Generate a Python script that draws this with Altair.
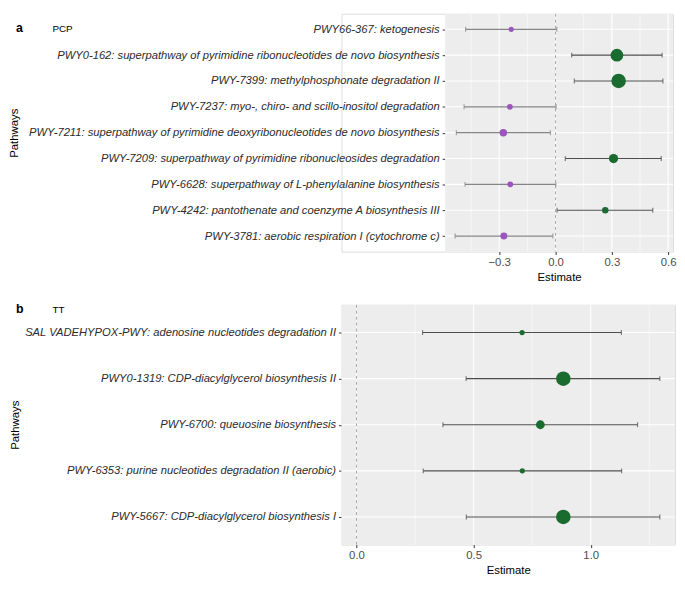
import altair as alt
import pandas as pd

# ---------------- data ----------------
pcp_pathways = [
    "PWY66-367: ketogenesis",
    "PWY0-162: superpathway of pyrimidine ribonucleotides de novo biosynthesis",
    "PWY-7399: methylphosphonate degradation II",
    "PWY-7237: myo-, chiro- and scillo-inositol degradation",
    "PWY-7211: superpathway of pyrimidine deoxyribonucleotides de novo biosynthesis",
    "PWY-7209: superpathway of pyrimidine ribonucleosides degradation",
    "PWY-6628: superpathway of L-phenylalanine biosynthesis",
    "PWY-4242: pantothenate and coenzyme A biosynthesis III",
    "PWY-3781: aerobic respiration I (cytochrome c)",
]
pcp_estimate = [-0.236, 0.327, 0.336, -0.243, -0.278, 0.309, -0.241, 0.265, -0.275]
pcp_lower = [-0.479, 0.086, 0.100, -0.487, -0.528, 0.052, -0.482, 0.008, -0.535]
pcp_upper = [0.007, 0.568, 0.572, 0.003, -0.027, 0.563, 0.002, 0.518, -0.014]
pcp_weight = [0.13, 0.77, 1.00, 0.16, 0.27, 0.41, 0.16, 0.20, 0.23]

tt_pathways = [
    "SAL VADEHYPOX-PWY: adenosine nucleotides degradation II",
    "PWY0-1319: CDP-diacylglycerol biosynthesis II",
    "PWY-6700: queuosine biosynthesis",
    "PWY-6353: purine nucleotides degradation II (aerobic)",
    "PWY-5667: CDP-diacylglycerol biosynthesis I",
]
tt_estimate = [0.707, 0.883, 0.785, 0.708, 0.883]
tt_lower = [0.282, 0.468, 0.369, 0.285, 0.469]
tt_upper = [1.131, 1.295, 1.200, 1.132, 1.295]
tt_weight = [0.13, 1.00, 0.37, 0.13, 1.00]

pcp_domain = [-0.588, 0.626]
pcp_major = [-0.3, 0.0, 0.3, 0.6]
pcp_minor = [-0.45, -0.15, 0.15, 0.45]
tt_domain = [-0.064, 1.36]
tt_major = [0.0, 0.5, 1.0]
tt_minor = [0.25, 0.75, 1.25]

GREEN = "#1a6b30"
PURPLE = "#9b55bd"
PANEL_BG = "#ededed"
FONT = "Liberation Sans"


def panel(pathways, est, lo, hi, wt, domain, major, minor,
          letter, name, shift, width, height, letter_x, name_x, text_y,
          title_pad):
    df = pd.DataFrame({"pathway": pathways, "estimate": est,
                       "lower": lo, "upper": hi, "weight": wt})
    # the plot panel starts `shift` px right of the shared column origin
    xscale = alt.Scale(domain=domain, nice=False, zero=False,
                       range=[shift, shift + width])
    xaxis = alt.Axis(values=major, format=".1f", title="Estimate",
                     grid=False, domain=False, tickColor="#333333", tickSize=3,
                     labelColor="#4d4d4d", labelFontSize=11.5, labelPadding=2,
                     titleFontSize=11.5, titleFontWeight="normal",
                     titleColor="#000000", titlePadding=4, labelFont=FONT,
                     titleFont=FONT, titleX=shift + width / 2)
    yaxis = alt.Axis(title="Pathways", labelFontStyle="italic", labelLimit=1000,
                     labelFontSize=11.35, labelColor="#2b2b2b", labelFont=FONT,
                     grid=False, domain=False, tickColor="#333333", tickSize=3,
                     labelPadding=3, titleFontSize=11.5, maxExtent=1000,
                     titleFontWeight="normal", titleColor="#000000",
                     titleFont=FONT, titlePadding=title_pad, offset=-shift)
    yscale = alt.Scale(type="point", padding=0.6)

    def X(field):
        return alt.X(field, type="quantitative", scale=xscale, axis=xaxis)

    Y = alt.Y("pathway:N", sort=pathways, scale=yscale, axis=yaxis)

    base = alt.Chart(df)
    bg = alt.Chart(pd.DataFrame({"a": [domain[0]], "b": [domain[1]]})).mark_rect(
        color=PANEL_BG).encode(x=X("a"), x2="b")
    hgrid = base.mark_rule(color="white", strokeWidth=1.1).encode(
        y=Y, x=alt.datum(domain[0], scale=xscale, axis=xaxis, type="quantitative"),
        x2=alt.datum(domain[1]))
    minor_grid = alt.Chart(pd.DataFrame({"v": minor})).mark_rule(
        color="white", strokeWidth=0.55).encode(x=X("v"))
    major_grid = alt.Chart(pd.DataFrame({"v": major})).mark_rule(
        color="white", strokeWidth=1.1).encode(x=X("v"))
    zero = alt.Chart(pd.DataFrame({"v": [0.0]})).mark_rule(
        color="#a8a8a8", strokeDash=[3, 3], strokeWidth=1).encode(x=X("v"))
    bar_color = alt.condition("datum.estimate > 0", alt.value("#4d4d4d"),
                              alt.value("#858585"))
    bars = base.mark_rule(strokeWidth=1.2).encode(
        x=X("lower"), x2="upper", y=Y, color=bar_color)
    caps = base.transform_fold(["lower", "upper"], as_=["bound", "val"]).mark_tick(
        thickness=1.2, size=5).encode(x=X("val"), y=Y, color=bar_color)
    pts = base.mark_circle(opacity=1).encode(
        x=X("estimate"), y=Y,
        size=alt.Size("weight:Q", scale=alt.Scale(domain=[0, 1], range=[0, 216]),
                      legend=None),
        color=alt.condition("datum.estimate > 0", alt.value(GREEN), alt.value(PURPLE)))
    t_letter = alt.Chart(pd.DataFrame({"t": [letter]})).mark_text(
        align="left", baseline="alphabetic", fontWeight="bold", fontSize=12.5,
        font=FONT, color="#000000").encode(
        text="t:N", x=alt.value(letter_x), y=alt.value(text_y))
    t_name = alt.Chart(pd.DataFrame({"t": [name]})).mark_text(
        align="left", baseline="alphabetic", fontSize=10, font=FONT,
        color="#000000").encode(
        text="t:N", x=alt.value(name_x), y=alt.value(text_y))
    return alt.layer(bg, hgrid, minor_grid, major_grid, zero, bars, caps, pts,
                     t_letter, t_name).properties(width=shift + width, height=height)


pa = panel(pcp_pathways, pcp_estimate, pcp_lower, pcp_upper, pcp_weight,
           pcp_domain, pcp_major, pcp_minor, "a", "PCP",
           105, 231, 241, -330, -293, 18, 9)
pb = panel(tt_pathways, tt_estimate, tt_lower, tt_upper, tt_weight,
           tt_domain, tt_major, tt_minor, "b", "TT",
           0, 338, 243, -330, -293, 8, 4)

chart = alt.vconcat(pa, pb, spacing=18).properties(
    padding={"left": 0, "top": 0, "right": 0, "bottom": 0}
).configure_view(fill=None, strokeWidth=0).configure(background="white")

chart.save("out.html", embed_options={"renderer": "svg", "actions": False})
